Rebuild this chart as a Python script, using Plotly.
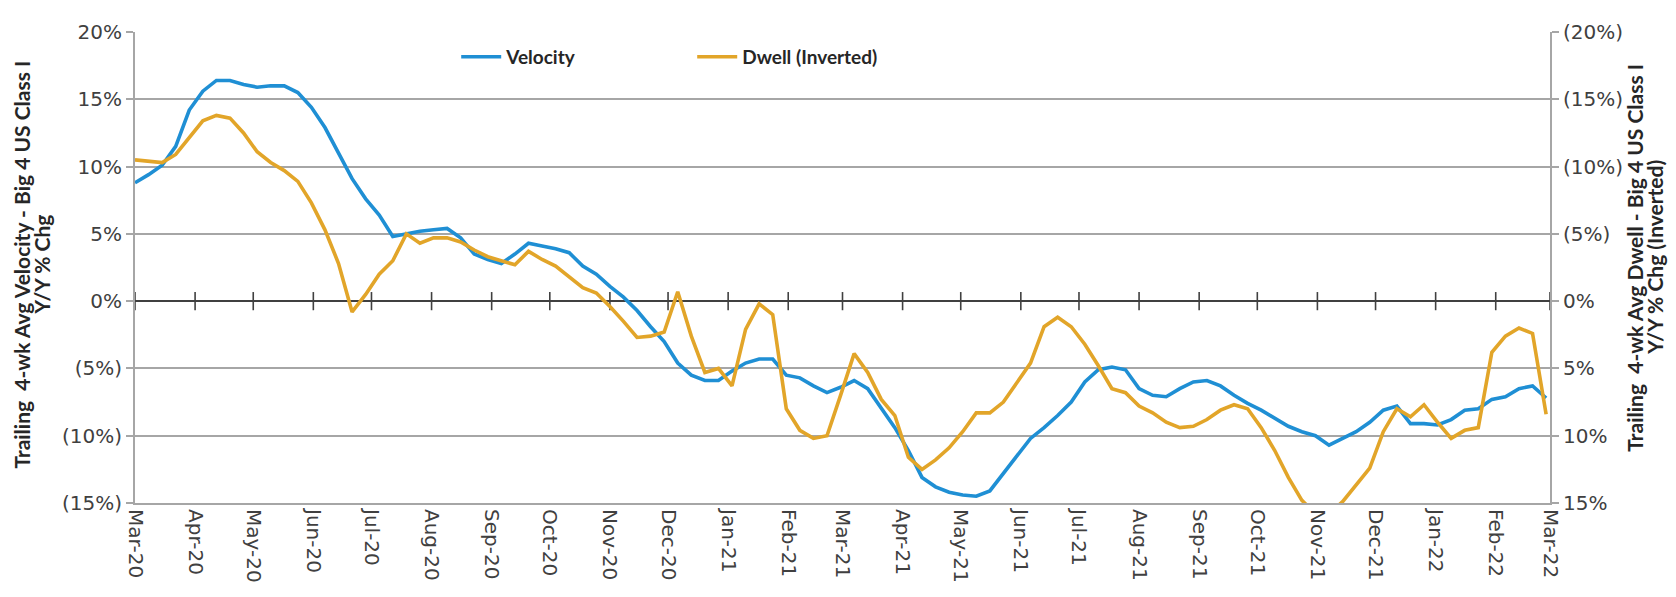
import pandas as pd
import plotly.graph_objects as go

# ---- data (weekly) ----
start_date = "2020-03-01"
n_weeks = 105

velocity_yoy = [8.8, 9.4, 10.1, 11.5, 14.2, 15.6, 16.4, 16.4, 16.1, 15.9,
                16.0, 16.0, 15.5, 14.4, 12.9, 11.0, 9.1, 7.6, 6.4, 4.8,
                5.0, 5.2, 5.3, 5.4, 4.7, 3.5, 3.1, 2.8, 3.5, 4.3,
                4.1, 3.9, 3.6, 2.6, 2.0, 1.1, 0.3, -0.7, -1.9, -3.0,
                -4.6, -5.5, -5.9, -5.9, -5.2, -4.6, -4.3, -4.3, -5.5, -5.7,
                -6.3, -6.8, -6.4, -5.9, -6.5, -8.0, -9.4, -11.1, -13.1, -13.8,
                -14.2, -14.4, -14.5, -14.1, -12.8, -11.6, -10.2, -9.4, -8.5, -7.5,
                -6.0, -5.1, -4.9, -5.1, -6.5, -7.0, -7.1, -6.5, -6.0, -5.9,
                -6.3, -7.0, -7.6, -8.1, -8.7, -9.3, -9.7, -10.0, -10.7, -10.2,
                -9.7, -9.0, -8.1, -7.8, -9.1, -9.1, -9.2, -8.8, -8.1, -8.0,
                -7.3, -7.1, -6.5, -6.3, -7.2]

dwell_yoy = [-10.5, -10.4, -10.3, -10.9, -12.2, -13.4, -13.8, -13.6, -12.5, -11.1,
             -10.3, -9.7, -8.9, -7.3, -5.3, -2.8, 0.8, -0.5, -2.0, -3.0,
             -5.0, -4.3, -4.7, -4.7, -4.4, -3.8, -3.3, -3.0, -2.7, -3.7,
             -3.1, -2.6, -1.8, -1.0, -0.6, 0.4, 1.5, 2.7, 2.6, 2.3,
             -0.7, 2.6, 5.3, 5.0, 6.3, 2.1, 0.2, 1.0, 8.0, 9.6,
             10.2, 10.0, 7.0, 3.9, 5.3, 7.3, 8.5, 11.6, 12.5, 11.8,
             10.9, 9.7, 8.3, 8.3, 7.5, 6.0, 4.6, 1.9, 1.2, 1.9,
             3.2, 4.8, 6.5, 6.8, 7.8, 8.3, 9.0, 9.4, 9.3, 8.8,
             8.1, 7.7, 8.0, 9.4, 11.1, 13.1, 14.8, 15.8, 15.8, 14.9,
             13.7, 12.4, 9.7, 8.0, 8.6, 7.7, 9.0, 10.2, 9.6, 9.4,
             3.8, 2.6, 2.0, 2.4, 8.4]

month_labels = ["Mar-20", "Apr-20", "May-20", "Jun-20", "Jul-20", "Aug-20", "Sep-20",
                "Oct-20", "Nov-20", "Dec-20", "Jan-21", "Feb-21", "Mar-21", "Apr-21",
                "May-21", "Jun-21", "Jul-21", "Aug-21", "Sep-21", "Oct-21", "Nov-21",
                "Dec-21", "Jan-22", "Feb-22", "Mar-22"]

y_ticks = [-15, -10, -5, 0, 5, 10, 15, 20]
left_tick_text = ["(15%)", "(10%)", "(5%)", "0%", "5%", "10%", "15%", "20%"]
right_tick_text = ["(15%)", "(10%)", "(5%)", "0%", "5%", "10%", "15%", "(20%)"]
right_tick_vals = [-15, -10, -5, 0, 5, 10, 15, -20]

left_title = ["Trailing  4-wk Avg Velocity - Big 4 US Class I", "Y/Y % Chg"]
right_title = ["Trailing  4-wk Avg Dwell - Big 4 US Class I", "Y/Y % Chg (Inverted)"]

# ---- build ----
dates = pd.date_range(start_date, periods=n_weeks, freq="7D")
month_dates = pd.date_range("2020-03-01", periods=len(month_labels), freq="MS")

BLUE = "#1f8fd4"
GOLD = "#e2a529"
GRID = "#a6a6a6"
DARK = "#404040"
TXT = "#262626"
FONT = "Lato"
TICKFONT = "DejaVu Sans"

fig = go.Figure()
fig.add_trace(go.Scatter(x=dates, y=velocity_yoy, mode="lines", name="Velocity",
                         line=dict(color=BLUE, width=3.6), yaxis="y"))
fig.add_trace(go.Scatter(x=dates, y=dwell_yoy, mode="lines", name="Dwell (Inverted)",
                         line=dict(color=GOLD, width=3.6), yaxis="y2"))
# cross tick marks on the zero line
fig.add_trace(go.Scatter(x=month_dates, y=[0] * len(month_dates), mode="markers",
                         marker=dict(symbol="line-ns", size=13,
                                     line=dict(color=DARK, width=1.6)),
                         showlegend=False, hoverinfo="skip", yaxis="y"))

PLOT_L, PLOT_W, PLOT_T, PLOT_H = 127, 1415, 17, 478


def px_x(px):
    return (px - PLOT_L) / PLOT_W


def px_y(py):
    return 1 - (py - PLOT_T) / PLOT_H


title_font = dict(size=21, color=TXT, family=FONT)
annotations = []
for text, xpx in zip(left_title, [14, 34]):
    annotations.append(dict(text="<b>" + text + "</b>", xref="paper", yref="paper",
                            x=px_x(xpx), y=px_y(253), xanchor="center", yanchor="middle",
                            textangle=-90, showarrow=False, font=title_font))
for text, xpx in zip(right_title, [1627, 1647]):
    annotations.append(dict(text="<b>" + text + "</b>", xref="paper", yref="paper",
                            x=px_x(xpx), y=px_y(246), xanchor="center", yanchor="middle",
                            textangle=-90, showarrow=False, font=title_font))

fig.update_layout(
    width=1676, height=597,
    margin=dict(l=127, r=134, t=17, b=102),
    paper_bgcolor="white", plot_bgcolor="white",
    font=dict(family=FONT, size=17, color=DARK),
    showlegend=True,
    legend=dict(orientation="h", x=0.227, y=0.947, xanchor="left", yanchor="middle",
                bgcolor="rgba(255,255,255,0)",
                font=dict(size=19, color=TXT, family=FONT, weight="bold"),
                entrywidth=181, entrywidthmode="pixels", itemwidth=40),
    xaxis=dict(type="date", range=[month_dates[0], month_dates[-1]],
               tickvals=list(month_dates), ticktext=month_labels, tickangle=90,
               showgrid=False, showline=True, linecolor=GRID, linewidth=2,
               ticks="", tickfont=dict(size=20, color=DARK, family=TICKFONT),
               zeroline=False),
    yaxis=dict(range=[-15, 20], tickvals=y_ticks, ticktext=left_tick_text,
               showgrid=True, gridcolor=GRID, gridwidth=2,
               zeroline=True, zerolinecolor=DARK, zerolinewidth=2.4,
               showline=True, linecolor=GRID, linewidth=2,
               ticks="outside", ticklen=7, tickcolor=GRID, tickwidth=2,
               tickfont=dict(size=20, color=DARK, family=TICKFONT)),
    yaxis2=dict(range=[15, -20], tickvals=right_tick_vals, ticktext=right_tick_text,
                overlaying="y", side="right", showgrid=False, zeroline=False,
                showline=True, linecolor=GRID, linewidth=2,
                ticks="outside", ticklen=7, tickcolor=GRID, tickwidth=2,
                tickfont=dict(size=20, color=DARK, family=TICKFONT)),
    annotations=annotations,
)

fig.write_html("out.html")
